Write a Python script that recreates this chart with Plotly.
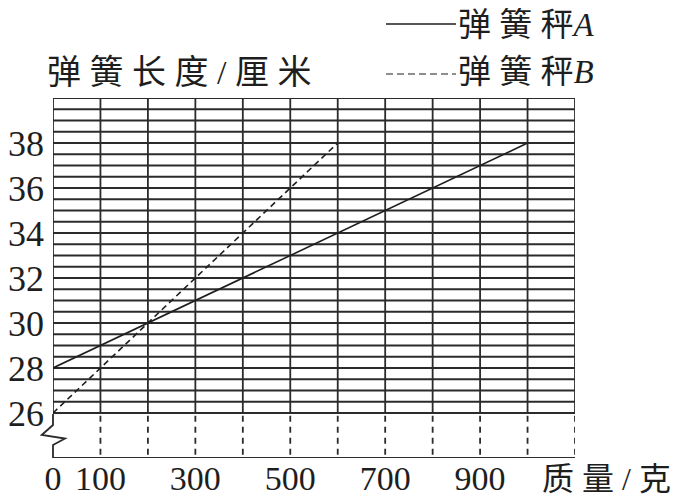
import plotly.graph_objects as go

# ---- data ----
mass_a = [0, 100, 200, 300, 400, 500, 600, 700, 800, 900, 1000]
length_a = [28, 29, 30, 31, 32, 33, 34, 35, 36, 37, 38]
mass_b = [0, 100, 200, 300, 400, 500, 600]
length_b = [26, 28, 30, 32, 34, 36, 38]

x_tick_vals = [0, 100, 300, 500, 700, 900]
x_tick_text = ["0", "100", "300", "500", "700", "900"]
y_tick_vals = [26, 28, 30, 32, 34, 36, 38]
y_tick_text = ["26", "28", "30", "32", "34", "36", "38"]

x_grid = [0, 100, 200, 300, 400, 500, 600, 700, 800, 900, 1000, 1100]
y_grid = [26 + 0.5 * i for i in range(29)]  # 26 .. 40

X_MAX = 1100
Y_MIN, Y_BREAK, Y_MAX = 24, 26, 40

FONT = "Liberation Serif, Noto Sans CJK SC, serif"
INK = "#1e1e1e"
GRID = "#2b2b2b"
SP = "\u2005"

fig = go.Figure()

fig.add_trace(go.Scatter(x=mass_a, y=length_a, mode="lines",
                         line=dict(color=INK, width=1.6), name="弹簧秤A",
                         showlegend=False))
fig.add_trace(go.Scatter(x=mass_b, y=length_b, mode="lines",
                         line=dict(color=INK, width=1.6, dash="6px,4px"),
                         name="弹簧秤B", showlegend=False))

shapes = []
for yv in y_grid:
    shapes.append(dict(type="line", xref="x", yref="y", x0=0, x1=X_MAX,
                       y0=yv, y1=yv, line=dict(color=GRID, width=1.8),
                       layer="below"))
for xv in x_grid:
    shapes.append(dict(type="line", xref="x", yref="y", x0=xv, x1=xv,
                       y0=Y_BREAK, y1=Y_MAX, line=dict(color=GRID, width=1.8),
                       layer="below"))
    if xv > 0:
        shapes.append(dict(type="line", xref="x", yref="y", x0=xv, x1=xv,
                           y0=Y_MIN + 0.15, y1=Y_BREAK - 0.1,
                           line=dict(color=GRID, width=1.8, dash="6px,5px"),
                           layer="below"))
shapes.append(dict(type="line", xref="x", yref="y", x0=0, x1=X_MAX,
                   y0=Y_MIN, y1=Y_MIN, line=dict(color=GRID, width=1.8)))

# plot area (page px) is 53..575 x 98..458
def px(xp, yp):
    return (xp - 53) / 522, (458 - yp) / 360

pts = [(53, 414), (53, 425), (41.7, 435), (65, 438.5), (53, 445), (53, 458)]
path = ""
for i, (a, b) in enumerate(pts):
    X, Y = px(a, b)
    path += ("M" if i == 0 else "L") + f"{X:.4f},{Y:.4f} "
shapes.append(dict(type="path", xref="paper", yref="paper", path=path,
                   line=dict(color=GRID, width=1.8)))

lx0, lx1 = px(386, 0)[0], px(456, 0)[0]
shapes.append(dict(type="line", xref="paper", yref="paper", x0=lx0, x1=lx1,
                   y0=px(0, 24)[1], y1=px(0, 24)[1],
                   line=dict(color=INK, width=1.4)))
shapes.append(dict(type="line", xref="paper", yref="paper", x0=lx0, x1=lx1,
                   y0=px(0, 74)[1], y1=px(0, 74)[1],
                   line=dict(color=INK, width=1.2, dash="7px,4px")))

annotations = [
    dict(text=SP.join("弹簧长度/厘米"), xref="paper", yref="paper",
         x=px(45, 0)[0], y=px(0, 72)[1], xanchor="left", yanchor="middle",
         showarrow=False, font=dict(family=FONT, size=34, color=INK)),
    dict(text=SP.join("弹簧秤") + "<i>A</i>", xref="paper", yref="paper",
         x=px(456, 0)[0], y=px(0, 25)[1], xanchor="left", yanchor="middle",
         showarrow=False, font=dict(family=FONT, size=33, color=INK)),
    dict(text=SP.join("弹簧秤") + "<i>B</i>", xref="paper", yref="paper",
         x=px(456, 0)[0], y=px(0, 72)[1], xanchor="left", yanchor="middle",
         showarrow=False, font=dict(family=FONT, size=33, color=INK)),
    dict(text=SP.join("质量/克"), xref="paper", yref="paper",
         x=px(540, 0)[0], y=px(0, 479)[1], xanchor="left", yanchor="middle",
         showarrow=False, font=dict(family=FONT, size=32, color=INK)),
]

# page body has an 8px margin; figure sized to fit the 688x500 window
fig.update_layout(
    width=680, height=492,
    margin=dict(l=45, r=113, t=90, b=42, autoexpand=False),
    paper_bgcolor="white", plot_bgcolor="white",
    shapes=shapes, annotations=annotations,
    font=dict(family=FONT, color=INK),
    xaxis=dict(range=[0, X_MAX], showgrid=False, zeroline=False,
               showline=False, tickvals=x_tick_vals, ticktext=x_tick_text,
               ticks="", automargin=False, ticklabelstandoff=-3,
               tickfont=dict(size=34, family=FONT, color=INK)),
    yaxis=dict(range=[Y_MIN, Y_MAX], showgrid=False, zeroline=False,
               showline=False, tickvals=y_tick_vals, ticktext=y_tick_text,
               ticks="", ticklabelstandoff=8, automargin=False,
               tickfont=dict(size=36, family=FONT, color=INK)),
)

fig.write_html("out.html")
